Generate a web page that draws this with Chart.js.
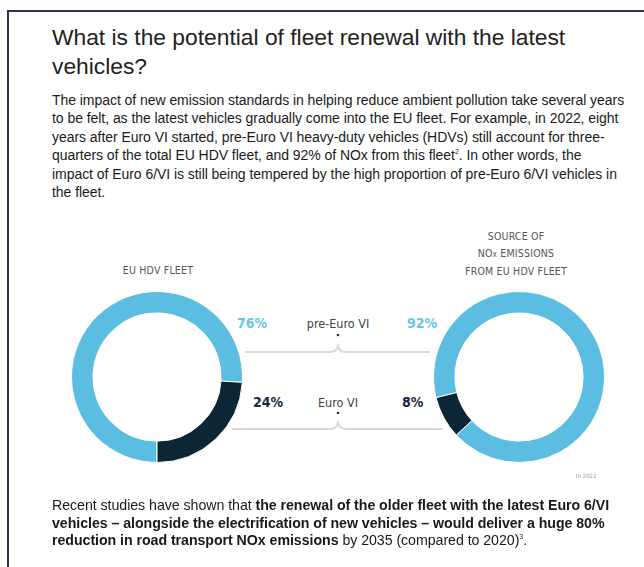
<!DOCTYPE html>
<html>
<head>
<meta charset="utf-8">
<script src="https://cdn.jsdelivr.net/npm/chart.js@4.4.0/dist/chart.umd.min.js"></script>
<style>
  body { margin: 0; background: #fff; width: 644px; height: 567px; overflow: hidden; position: relative; font-family: "Liberation Sans", Arial, sans-serif; color: #222; }
  .frame { position: absolute; left: 7px; top: 10px; width: 660px; height: 600px; border-top: 2px solid #2c3649; border-left: 2px solid #2c3649; }
  h1 { position: absolute; left: 52px; top: 23px; margin: 0; width: 580px; font-weight: normal; font-size: 22.8px; line-height: 29px; color: #222; }
  .para { position: absolute; left: 52px; margin: 0; font-size: 14px; line-height: 17.6px; letter-spacing: -0.05px; color: #1a1a1a; white-space: nowrap; }
  sup { font-size: 7px; line-height: 0; vertical-align: 6px; }
  .cond { font-family: "DejaVu Sans Condensed", "Liberation Sans Narrow", sans-serif; position: absolute; white-space: nowrap; }
  .ttl { font-size: 10.5px; color: #555; text-align: center; line-height: 16.5px; letter-spacing: 0.2px; transform: translateX(-50%); }
  .pct { font-size: 14px; font-weight: bold; }
  .lab { font-size: 12.5px; color: #444; transform: translateX(-50%); }
  canvas { position: absolute; }
</style>
</head>
<body>
<div class="frame"></div>
<h1>What is the potential of fleet renewal with the latest vehicles?</h1>
<p class="para" style="top:91px; line-height:18.4px">The impact of new emission standards in helping reduce ambient pollution take several years<br>to be felt, as the latest vehicles gradually come into the EU fleet. For example, in 2022, eight<br>years after Euro VI started, pre-Euro VI heavy-duty vehicles (HDVs) still account for three-<br>quarters of the total EU HDV fleet, and 92% of NOx from this fleet<sup>2</sup>. In other words, the<br>impact of Euro 6/VI is still being tempered by the high proportion of pre-Euro 6/VI vehicles in<br>the fleet.</p>

<div id="labels"></div>

<canvas id="fleetChart" width="172" height="172" style="left:71px; top:291px;"></canvas>
<canvas id="noxChart" width="172" height="172" style="left:433px; top:291px;"></canvas>

<svg width="644" height="567" style="position:absolute;left:0;top:0;pointer-events:none">
  <g fill="none" stroke="#d9d9d9" stroke-width="2">
    <path d="M245,352 H330 Q338,352 338,344 Q338,352 346,352 H430"/>
    <path d="M232,429 H330 Q338,429 338,421 Q338,429 346,429 H443"/>
  </g>
  <circle cx="338" cy="335" r="1.3" fill="#333"/>
  <circle cx="338" cy="413" r="1.3" fill="#333"/>
</svg>

<div class="cond" style="left:576px; top:472px; font-size:6px; color:#999;">In 2022</div>

<p class="para" style="top:497px; font-size:14.2px">Recent studies have shown that <b>the renewal of the older fleet with the latest Euro 6/VI<br>vehicles – alongside the electrification of new vehicles – would deliver a huge 80%<br>reduction in road transport NOx emissions</b> by 2035 (compared to 2020)<sup>3</sup>.</p>

<script>
const categories = ['pre-Euro VI', 'Euro VI'];
const fleetShare = [76, 24];      // EU HDV fleet, %
const noxShare = [92, 8];         // NOx emissions from EU HDV fleet, %
const fleetTitle = ['EU HDV FLEET'];
const noxTitle = ['SOURCE OF', 'NOx EMISSIONS', 'FROM EU HDV FLEET'];
const colors = ['#5bbde1', '#0d2636'];
const textColors = ['#6cc3e4', '#17293a'];

function makeDonut(id, values, rotation) {
    return new Chart(document.getElementById(id), {
        type: 'doughnut',
        data: {
            labels: categories,
            datasets: [{
                data: values,
                backgroundColor: colors,
                borderColor: '#ffffff',
                borderWidth: 1
            }]
        },
        options: {
            responsive: false,
            animation: false,
            cutout: '75%',
            rotation: rotation,
            layout: { padding: 0 },
            plugins: { legend: { display: false }, tooltip: { enabled: false } }
        }
    });
}

makeDonut('fleetChart', fleetShare, 180);
makeDonut('noxChart', noxShare, 256);

// titles, percentages and category labels
const labels = document.getElementById('labels');
function addText(cls, x, y, text, color) {
    const d = document.createElement('div');
    d.className = 'cond ' + cls;
    d.style.left = x + 'px';
    d.style.top = y + 'px';
    if (color) d.style.color = color;
    d.innerHTML = text;
    labels.appendChild(d);
}
addText('ttl', 158, 262, fleetTitle.join('<br>'));
addText('ttl', 516, 228, noxTitle.join('<br>').replace('NOx', 'NO<span style="font-size:8px">x</span>'));
const rowsY = [315, 394];
const fleetX = [237, 253];
const noxX = [407, 402];
categories.forEach((c, i) => {
    addText('pct', fleetX[i], rowsY[i], fleetShare[i] + '%', textColors[i]);
    addText('lab', 338, rowsY[i] + 1, c);
    addText('pct', noxX[i], rowsY[i], noxShare[i] + '%', textColors[i]);
});
</script>
</body>
</html>
